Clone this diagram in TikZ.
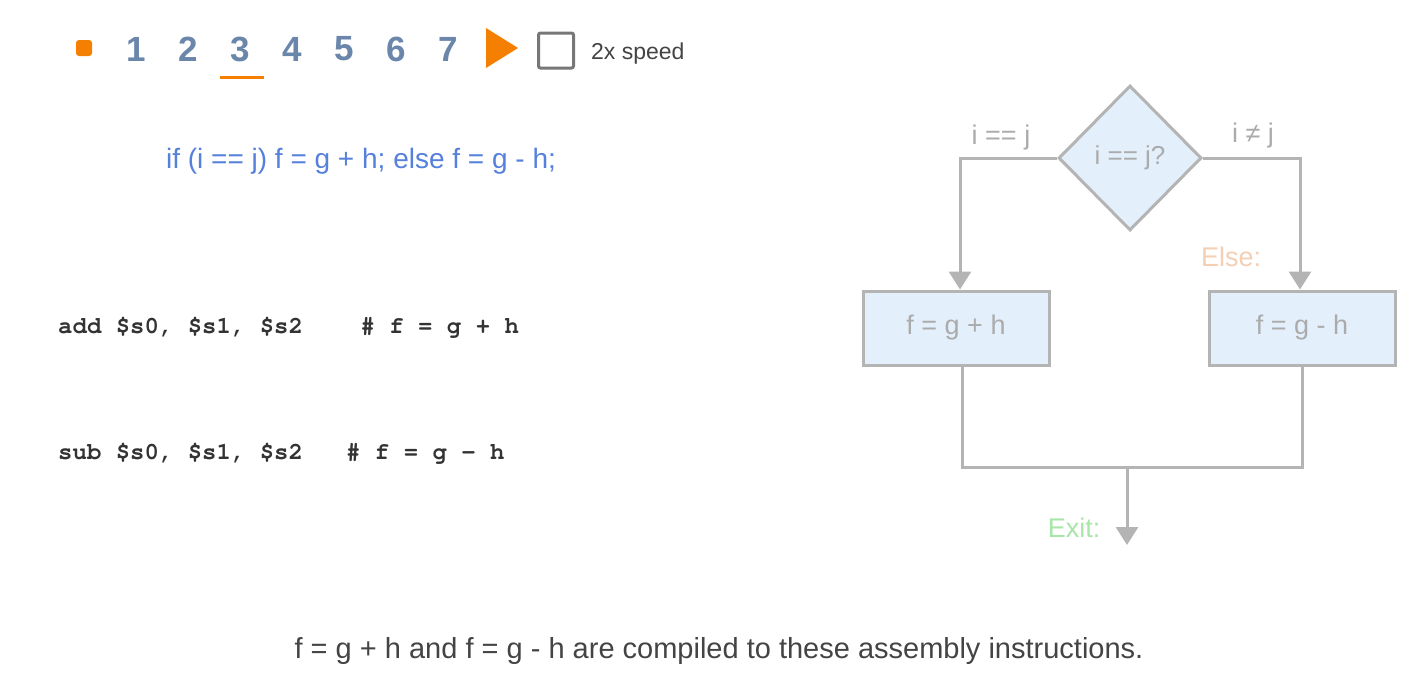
\documentclass[tikz,border=0pt]{standalone}
\usepackage[T1]{fontenc}
\usepackage{fontspec}
\setmainfont{Liberation Sans}
\usetikzlibrary{arrows.meta,positioning,shapes.geometric}
\definecolor{stepblue}{HTML}{6A86AB}
\definecolor{playorange}{HTML}{F57F00}
\definecolor{codeblue}{HTML}{5580DC}
\definecolor{flowgray}{HTML}{B4B4B4}
\definecolor{flowtext}{HTML}{ABABAB}
\definecolor{flowfill}{HTML}{E3F0FC}
\definecolor{elsecol}{HTML}{F4CFB4}
\definecolor{exitcol}{HTML}{A8E6A8}
\definecolor{captioncol}{HTML}{444444}
\definecolor{asmcol}{HTML}{333333}
\definecolor{boxgray}{HTML}{777777}
\newcommand{\fsz}[1]{\fontsize{#1}{#1}\selectfont}
\newcommand{\asmfont}{\fontencoding{T1}\fontfamily{pcr}\fontseries{b}\selectfont}

\begin{document}
\begin{tikzpicture}[
    x=1pt, y=-1pt,
    >={Triangle[length=18pt,width=22pt]},
    stepnum/.style={text=stepblue, font=\bfseries\fsz{35}, inner sep=0pt},
    flowline/.style={draw=flowgray, line width=3pt},
    flowbox/.style={draw=flowgray, fill=flowfill, line width=3pt,
      minimum width=186pt, minimum height=74pt, text=flowtext, font=\fsz{27}},
    decision/.style={diamond, aspect=1, draw=flowgray, fill=flowfill, line width=3pt,
      minimum width=143pt, minimum height=145pt, inner sep=0pt,
      text=flowtext, font=\fsz{26}},
    flowlabel/.style={text=flowtext, font=\fsz{27}, inner sep=0pt},
    codeline/.style={anchor=west, text=asmcol, font=\fsz{24}\asmfont, inner sep=0pt},
  ]

  % Page
  \fill[white] (0,0) rectangle (1422,688);
  \useasboundingbox (0,0) rectangle (1422,688);

  % Step bar
  \node[fill=playorange, minimum size=16pt, rounded corners=3pt, inner sep=0pt]
    (stop) at (84,48) {};
  \foreach \n in {1,...,7}
    \node[stepnum] (step\n) at ({84+52*\n},49) {\n};
  \draw[playorange, line width=3pt] (220,77) -- (264,77);
  \fill[playorange] (486,28) -- (518,48) -- (486,68) -- cycle;
  \node[draw=boxgray, line width=3pt, rounded corners=2pt, minimum size=35pt]
    (speedbox) at (556,50.5) {};
  \node[anchor=west, text=captioncol, font=\fsz{23}, inner sep=0pt]
    (speed) at (591,54) {2x speed};

  % Source line
  \node[text=codeblue, font=\fsz{28}] (source) at (361,161)
    {if (i == j) f = g + h; else f = g - h;};

  % Assembly
  \node[codeline] (addline) at (58,327)
    {add \$s0, \$s1, \$s2\hphantom{xxxx}\# f = g + h};
  \node[codeline] (subline) at (58,453)
    {sub \$s0, \$s1, \$s2\hphantom{xxx}\# f = g - h};

  % Flowchart
  \node[decision] (cond) at (1130,158) {i == j?};
  \node[flowbox] (thenbox) at (956,328) {f = g + h};
  \node[flowbox] (elsebox) at (1302,328) {f = g - h};
  \coordinate (merge) at (1127,467);
  \coordinate (exitend) at (1127,545);

  \draw[flowline, ->] (cond.west) -| ([xshift=4pt]thenbox.north);
  \draw[flowline, ->] (cond.east) -| ([xshift=-2pt]elsebox.north);
  \draw[flowline]
    ([xshift=6pt]thenbox.south) -- ([xshift=6pt]thenbox.south |- merge)
    -- (elsebox.south |- merge) -- (elsebox.south);
  \draw[flowline, ->] (merge) -- (exitend);

  \node[flowlabel] (eqlabel) at (1001,138) {i == j};
  \node[flowlabel] (nelabel) at (1253,136) {i ≠ j};
  \node[flowlabel, text=elsecol] (elselabel) at (1231,257) {Else:};
  \node[flowlabel, text=exitcol] (exitlabel) at (1074,528) {Exit:};

  % Caption
  \node[text=captioncol, font=\fsz{29}] (caption) at (719,651)
    {f = g + h and f = g - h are compiled to these assembly instructions.};

\end{tikzpicture}
\end{document}
